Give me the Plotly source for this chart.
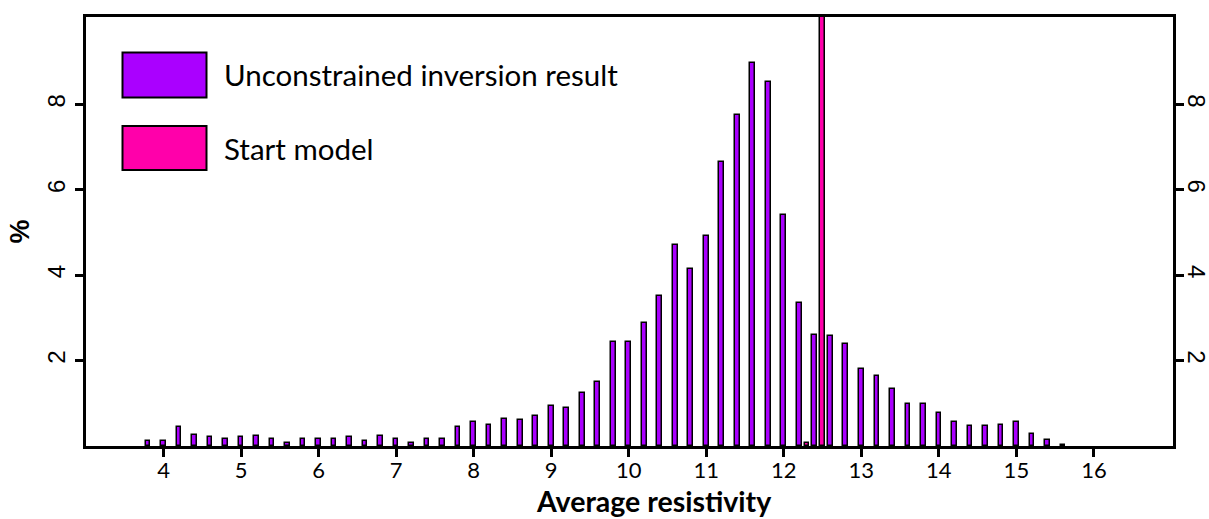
import plotly.graph_objects as go

# ---- data ----
resistivity_bins = [3.8, 4.0, 4.2, 4.4, 4.6, 4.8, 5.0, 5.2, 5.4, 5.6,
                    5.8, 6.0, 6.2, 6.4, 6.6, 6.8, 7.0, 7.2, 7.4, 7.6,
                    7.8, 8.0, 8.2, 8.4, 8.6, 8.8, 9.0, 9.2, 9.4, 9.6,
                    9.8, 10.0, 10.2, 10.4, 10.6, 10.8, 11.0, 11.2, 11.4, 11.6,
                    11.8, 12.0, 12.2, 12.4, 12.6, 12.8, 13.0, 13.2, 13.4, 13.6,
                    13.8, 14.0, 14.2, 14.4, 14.6, 14.8, 15.0, 15.2, 15.4, 15.6]
unconstrained_pct = [0.12, 0.12, 0.45, 0.26, 0.20, 0.16, 0.20, 0.23, 0.16, 0.08,
                     0.16, 0.16, 0.16, 0.20, 0.12, 0.23, 0.16, 0.08, 0.16, 0.16,
                     0.44, 0.57, 0.50, 0.64, 0.61, 0.71, 0.93, 0.89, 1.25, 1.49,
                     2.43, 2.43, 2.89, 3.51, 4.71, 4.14, 4.91, 6.66, 7.75, 8.98,
                     8.52, 5.41, 3.36, 2.61, 2.57, 2.39, 1.80, 1.65, 1.34, 0.99,
                     0.99, 0.78, 0.57, 0.46, 0.46, 0.50, 0.57, 0.29, 0.15, 0.02]
start_bins = [12.3, 12.5]
start_pct = [0.08, 99.92]

series_names = ["Unconstrained inversion result", "Start model"]
x_tick_vals = [4, 5, 6, 7, 8, 9, 10, 11, 12, 13, 14, 15, 16]
y_tick_vals = [2, 4, 6, 8]
x_title = "Average resistivity"
y_title = "%"

# ---- style ----
PURPLE = "#AA00FF"
PINK = "#FF00AA"
W, H = 1209, 519
ML, MR, MT, MB = 86, 36, 17, 73
BAR_W = 0.06

fig = go.Figure()
fig.add_trace(go.Bar(x=resistivity_bins, y=unconstrained_pct, width=BAR_W,
                     name=series_names[0],
                     marker=dict(color=PURPLE, line=dict(color="black", width=1.5)),
                     showlegend=False))
fig.add_trace(go.Bar(x=start_bins, y=start_pct, width=BAR_W,
                     name=series_names[1],
                     marker=dict(color=PINK, line=dict(color="black", width=1.5)),
                     showlegend=False))
fig.add_trace(go.Scatter(x=[None], y=[None], yaxis="y2", showlegend=False,
                         hoverinfo="skip"))

plot_w = W - ML - MR
plot_h = H - MT - MB


def px_x(p):
    return (p - ML) / plot_w


def px_y(p):
    return (H - MB - p) / plot_h


# legend drawn as boxes + text
legend_rows = [(52.5, 97.5, PURPLE), (126, 170, PINK)]
for (top, bot, col), name in zip(legend_rows, series_names):
    fig.add_shape(type="rect", xref="paper", yref="paper",
                  x0=px_x(122.5), x1=px_x(206.5), y0=px_y(bot), y1=px_y(top),
                  fillcolor=col, line=dict(color="black", width=2))
    fig.add_annotation(xref="paper", yref="paper", x=px_x(222), y=px_y((top + bot) / 2),
                       text=name, showarrow=False, xanchor="left", yanchor="middle",
                       font=dict(family="Lato", size=29.5, color="black"))

# x-axis title (offset to the right as in the reference)
fig.add_annotation(xref="paper", yref="paper", x=px_x(654), y=px_y(519),
                   text=x_title, showarrow=False, xanchor="center", yanchor="bottom",
                   borderpad=0,
                   font=dict(family="Lato", size=28.5, color="black", weight="bold"))

axis_common = dict(showline=True, linecolor="black", linewidth=3,
                   ticks="outside", ticklen=8, tickwidth=3, tickcolor="black",
                   showgrid=False, zeroline=False, automargin=False)

fig.update_layout(
    width=W, height=H,
    margin=dict(l=ML, r=MR, t=MT, b=MB, pad=0),
    plot_bgcolor="white", paper_bgcolor="white",
    barmode="overlay", bargap=0,
    xaxis=dict(range=[3.0, 17.02], tickvals=x_tick_vals, mirror=True,
               ticklabelstandoff=-5,
               tickfont=dict(family="Lato", size=22, color="black"),
               **axis_common),
    yaxis=dict(range=[0, 10.05], tickvals=y_tick_vals, tickangle=-90,
               ticklabelstandoff=0,
               tickfont=dict(family="Liberation Sans", size=24, color="black"),
               title=dict(text=y_title, standoff=6,
                          font=dict(family="Liberation Sans", size=27, color="black", weight="bold")),
               **axis_common),
    yaxis2=dict(range=[0, 10.05], tickvals=y_tick_vals, tickangle=90,
                overlaying="y", side="right", anchor="x",
                ticklabelstandoff=-6,
                tickfont=dict(family="Liberation Sans", size=24, color="black"),
                **axis_common),
)

fig.write_html("out.html")
